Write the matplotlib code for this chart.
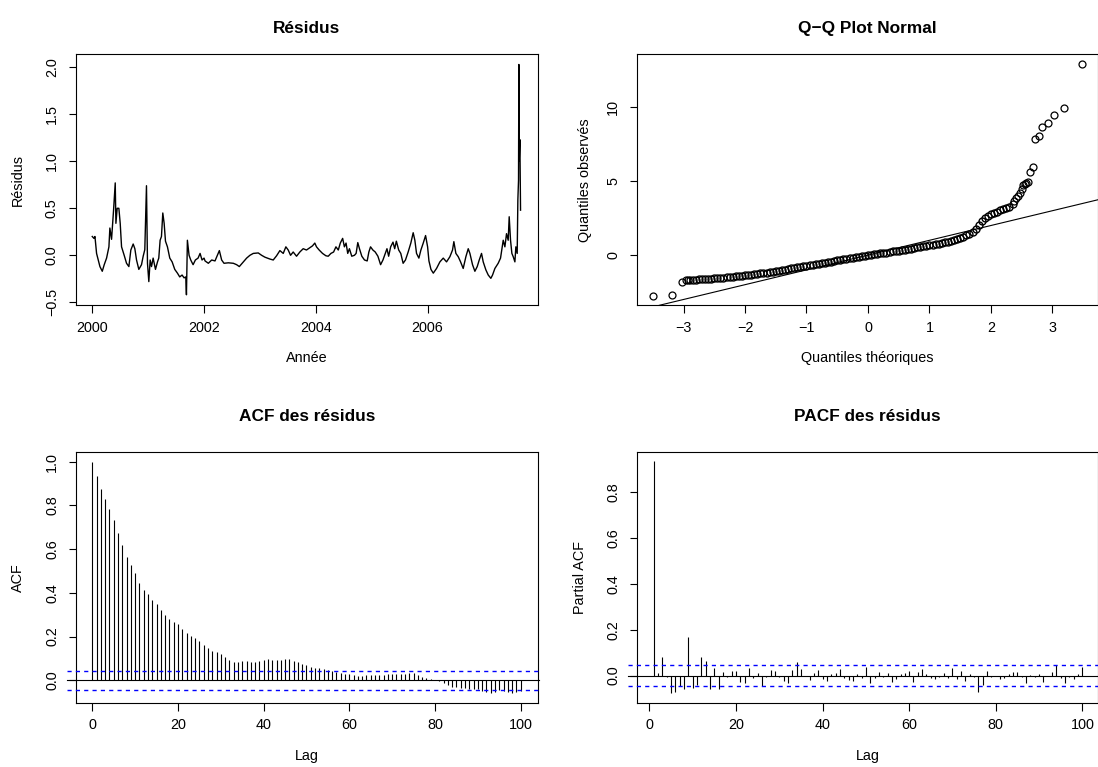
import numpy as np
import matplotlib
matplotlib.use("Agg")
import matplotlib.pyplot as plt

# residual series (year, value)
res_year = [2000.000, 2000.030, 2000.048, 2000.077, 2000.107, 2000.137, 2000.179, 2000.214, 2000.256, 2000.298,
            2000.315, 2000.345, 2000.381, 2000.411, 2000.423, 2000.446, 2000.476, 2000.500, 2000.524, 2000.571,
            2000.613, 2000.655, 2000.690, 2000.732, 2000.762, 2000.792, 2000.833, 2000.881, 2000.911, 2000.940,
            2000.970, 2000.988, 2001.012, 2001.036, 2001.060, 2001.089, 2001.131, 2001.167, 2001.190, 2001.214,
            2001.238, 2001.262, 2001.286, 2001.310, 2001.345, 2001.387, 2001.429, 2001.476, 2001.524, 2001.565,
            2001.607, 2001.643, 2001.673, 2001.685, 2001.702, 2001.732, 2001.762, 2001.804, 2001.845, 2001.893,
            2001.929, 2001.964, 2002.000, 2002.018, 2002.077, 2002.137, 2002.196, 2002.238, 2002.274, 2002.315,
            2002.357, 2002.435, 2002.524, 2002.583, 2002.631, 2002.690, 2002.762, 2002.821, 2002.881, 2002.970,
            2003.030, 2003.089, 2003.179, 2003.238, 2003.298, 2003.357, 2003.417, 2003.464, 2003.506, 2003.548,
            2003.595, 2003.655, 2003.714, 2003.774, 2003.833, 2003.893, 2003.940, 2003.982, 2004.012, 2004.060,
            2004.120, 2004.180, 2004.222, 2004.270, 2004.318, 2004.360, 2004.402, 2004.438, 2004.480, 2004.511,
            2004.541, 2004.571, 2004.601, 2004.643, 2004.691, 2004.721, 2004.751, 2004.781, 2004.823, 2004.871,
            2004.919, 2004.949, 2004.979, 2005.021, 2005.063, 2005.111, 2005.159, 2005.201, 2005.243, 2005.273,
            2005.303, 2005.339, 2005.381, 2005.411, 2005.441, 2005.483, 2005.520, 2005.562, 2005.604, 2005.652,
            2005.700, 2005.742, 2005.772, 2005.802, 2005.844, 2005.880, 2005.922, 2005.964, 2006.000, 2006.024,
            2006.060, 2006.102, 2006.160, 2006.220, 2006.280, 2006.339, 2006.399, 2006.446, 2006.470, 2006.506,
            2006.548, 2006.590, 2006.637, 2006.685, 2006.727, 2006.757, 2006.804, 2006.846, 2006.888, 2006.924,
            2006.965, 2006.995, 2007.043, 2007.085, 2007.132, 2007.162, 2007.204, 2007.263, 2007.305, 2007.353,
            2007.383, 2007.412, 2007.442, 2007.460, 2007.484, 2007.508, 2007.532, 2007.562, 2007.579, 2007.603,
            2007.615, 2007.627, 2007.633, 2007.639, 2007.651, 2007.663]
res_val = [0.20, 0.18, 0.20, 0.02, -0.05, -0.12, -0.17, -0.10, -0.03, 0.09,
           0.29, 0.17, 0.48, 0.77, 0.34, 0.50, 0.50, 0.34, 0.09, 0.00,
           -0.085, -0.12, 0.056, 0.12, 0.07, -0.05, -0.15, -0.10, -0.01, 0.06,
           0.74, -0.085, -0.28, -0.05, -0.12, -0.03, -0.15, -0.07, -0.03, 0.16,
           0.20, 0.45, 0.34, 0.15, 0.09, -0.03, -0.07, -0.15, -0.19, -0.23,
           -0.21, -0.24, -0.23, -0.42, 0.16, 0.00, -0.05, -0.10, -0.05, -0.03,
           0.02, -0.05, -0.03, -0.06, -0.085, -0.05, -0.06, 0.00, 0.05, -0.05,
           -0.085, -0.08, -0.085, -0.10, -0.12, -0.08, -0.03, 0.00, 0.02, 0.025,
           0.00, -0.02, -0.04, -0.05, -0.005, 0.05, 0.02, 0.09, 0.056, 0.00,
           0.035, -0.01, 0.035, 0.07, 0.056, 0.08, 0.10, 0.13, 0.09, 0.056,
           0.02, -0.005, -0.01, 0.02, 0.035, 0.09, 0.056, 0.13, 0.18, 0.09,
           0.13, 0.02, 0.07, -0.01, 0.00, 0.02, 0.135, 0.07, -0.01, -0.05,
           -0.06, 0.035, 0.09, 0.056, 0.035, -0.01, -0.10, -0.05, 0.02, 0.07,
           -0.01, 0.09, 0.14, 0.07, 0.15, 0.056, 0.02, -0.085, -0.05, 0.035,
           0.13, 0.24, 0.16, 0.02, -0.03, 0.056, 0.13, 0.21, 0.09, -0.06,
           -0.15, -0.19, -0.14, -0.07, -0.03, -0.07, -0.015, 0.056, 0.145, 0.02,
           -0.015, -0.07, -0.14, -0.015, 0.07, 0.02, -0.10, -0.17, -0.12, -0.05,
           0.02, -0.07, -0.156, -0.21, -0.245, -0.21, -0.14, -0.085, -0.03, 0.16,
           0.09, 0.23, 0.16, 0.41, 0.16, 0.02, -0.015, -0.07, 0.09, 0.02,
           0.59, 0.80, 2.03, 1.00, 1.23, 0.48]

# Q-Q plot: theoretical vs observed standardized residual quantiles
qq_theo_body = np.round(np.arange(-2.85, 2.301, 0.05), 2)
qq_obs_body = [-1.66, -1.64, -1.63, -1.61, -1.60, -1.58, -1.57, -1.55, -1.53, -1.52,
               -1.50, -1.48, -1.46, -1.44, -1.42, -1.40, -1.38, -1.36, -1.33, -1.31,
               -1.28, -1.25, -1.22, -1.20, -1.17, -1.14, -1.11, -1.08, -1.04, -1.00,
               -0.97, -0.93, -0.89, -0.85, -0.81, -0.77, -0.73, -0.70, -0.66, -0.63,
               -0.59, -0.56, -0.52, -0.49, -0.45, -0.42, -0.38, -0.35, -0.31, -0.28,
               -0.24, -0.21, -0.17, -0.14, -0.10, -0.07, -0.03, 0.00, 0.03, 0.07,
               0.10, 0.13, 0.16, 0.19, 0.23, 0.26, 0.29, 0.32, 0.36, 0.39,
               0.43, 0.46, 0.50, 0.53, 0.57, 0.60, 0.64, 0.67, 0.71, 0.75,
               0.79, 0.83, 0.88, 0.93, 0.99, 1.05, 1.12, 1.19, 1.26, 1.35,
               1.45, 1.58, 1.75, 2.02, 2.30, 2.50, 2.65, 2.78, 2.88, 2.96,
               3.04, 3.11, 3.18, 3.25]
qq_theo_tail = [-3.49, -3.18, -3.03, -2.96, -2.92, -2.89,
                2.35, 2.38, 2.41, 2.44, 2.47, 2.50, 2.52, 2.55, 2.57, 2.60,
                2.63, 2.68, 2.72, 2.78, 2.83, 2.92, 3.02, 3.18, 3.48]
qq_obs_tail = [-2.75, -2.70, -1.82, -1.70, -1.67, -1.67,
               3.50, 3.65, 3.85, 3.98, 4.20, 4.50, 4.75, 4.82, 4.88, 4.95,
               5.65, 5.94, 7.86, 8.06, 8.69, 8.92, 9.48, 9.93, 12.90]
qq_line = (0.015, 1.0)  # intercept, slope

# ACF, lags 0..100
acf_vals = [1.000, 0.936, 0.875, 0.830, 0.785, 0.733, 0.675, 0.619, 0.563, 0.529,
            0.489, 0.444, 0.413, 0.395, 0.367, 0.347, 0.322, 0.299, 0.280, 0.268,
            0.256, 0.235, 0.218, 0.204, 0.192, 0.181, 0.162, 0.146, 0.136, 0.128,
            0.119, 0.105, 0.093, 0.085, 0.085, 0.088, 0.088, 0.085, 0.084, 0.088,
            0.093, 0.096, 0.093, 0.091, 0.093, 0.096, 0.097, 0.090, 0.082, 0.076,
            0.068, 0.062, 0.058, 0.055, 0.053, 0.047, 0.044, 0.037, 0.032, 0.029,
            0.027, 0.023, 0.020, 0.021, 0.023, 0.024, 0.026, 0.026, 0.026, 0.027,
            0.027, 0.029, 0.029, 0.030, 0.032, 0.035, 0.026, 0.017, 0.011, 0.004,
            0.001, -0.003, -0.014, -0.021, -0.029, -0.032, -0.034, -0.037, -0.040, -0.041,
            -0.041, -0.047, -0.052, -0.056, -0.052, -0.044, -0.047, -0.053, -0.056, -0.052,
            -0.047]

# PACF, lags 1..100
pacf_vals = [0.937, 0.010, 0.080, -0.004, -0.077, -0.070, -0.044, -0.057, 0.169, -0.055,
             -0.042, 0.080, 0.065, -0.060, 0.035, -0.060, 0.015, -0.004, 0.020, 0.020,
             -0.028, -0.031, 0.035, -0.009, 0.010, -0.044, -0.004, 0.023, 0.019, -0.004,
             -0.022, -0.033, 0.026, 0.060, 0.031, -0.001, -0.019, 0.010, 0.025, -0.016,
             -0.022, 0.007, 0.010, 0.030, -0.012, -0.019, -0.022, 0.007, -0.012, 0.038,
             -0.031, -0.009, 0.017, -0.004, 0.013, -0.026, -0.016, 0.007, 0.010, 0.019,
             -0.026, 0.017, 0.029, 0.007, -0.012, -0.016, -0.004, 0.013, -0.009, 0.033,
             -0.016, 0.022, -0.022, 0.007, -0.004, -0.070, -0.041, 0.022, -0.004, -0.001,
             -0.016, -0.009, 0.007, 0.015, 0.015, -0.004, -0.031, 0.004, -0.007, 0.007,
             -0.026, 0.000, 0.016, 0.045, -0.012, -0.033, -0.004, -0.016, 0.007, 0.038]
ci = 0.0445

plt.rcParams['font.family'] = ['Liberation Sans', 'DejaVu Sans']
plt.rcParams['lines.scale_dashes'] = False
FS = 10.4
W, H = 1098, 767
fig = plt.figure(figsize=(W / 100, H / 100), dpi=100)


def make_ax(x0, x1, y0, y1):
    ax = fig.add_axes([x0 / W, 1 - y1 / H, (x1 - x0) / W, (y1 - y0) / H])
    for s in ax.spines.values():
        s.set_linewidth(0.8)
    ax.tick_params(direction='out', length=5.4, width=0.8, labelsize=FS)
    ax.tick_params(axis='x', pad=5.8)
    ax.tick_params(axis='y', pad=6.5)
    return ax


def finish(ax, title, xlabel, ylabel, yfmt, title_gap, ylab_off):
    # title_gap: px from box top to title baseline; ylab_off: px from box left to y-label centre
    ax.set_yticklabels([yfmt(t) for t in ax.get_yticks()], rotation=90, va='center')
    h = ax.get_position().height * H
    w = ax.get_position().width * W
    ax.text(0.5, 1 + title_gap / h, title, transform=ax.transAxes, ha='center', va='baseline',
            fontsize=12.4, fontweight='bold')
    ax.set_xlabel(xlabel, fontsize=FS, va='center')
    ax.set_ylabel(ylabel, fontsize=FS, va='center')
    ax.xaxis.set_label_coords(0.5, -53 / h)
    ax.yaxis.set_label_coords(-ylab_off / w, 0.5)


def minus(s):
    return s.replace('-', '\u2212')


# Résidus
ax1 = make_ax(75.5, 537.7, 54.5, 305.3)
ax1.plot(res_year, res_val, color='black', lw=1.0)
ax1.set_xlim(1999.70, 2007.97)
ax1.set_ylim(-0.532, 2.136)
ax1.set_xticks([2000, 2002, 2004, 2006])
ax1.set_yticks([-0.5, 0.0, 0.5, 1.0, 1.5, 2.0])
finish(ax1, 'Résidus', 'Année', 'Résidus', lambda t: minus(f'{t:.1f}'), 21.8, 57.5)

# Q-Q plot
ax2 = make_ax(636.7, 1098, 54.5, 305.3)
ax2.plot(qq_theo_body, qq_obs_body, 'o', mfc='none', mec='black', ms=5.0, mew=1.0)
ax2.plot(qq_theo_tail, qq_obs_tail, 'o', mfc='none', mec='black', ms=5.0, mew=0.9)
ax2.axline((0, qq_line[0]), slope=qq_line[1], color='black', lw=0.8)
ax2.set_xlim(-3.761, 3.74)
ax2.set_ylim(-3.378, 13.57)
ax2.set_xticks([-3, -2, -1, 0, 1, 2, 3])
ax2.set_xticklabels([minus(str(t)) for t in [-3, -2, -1, 0, 1, 2, 3]])
ax2.set_yticks([0, 5, 10])
finish(ax2, 'Q\u2212Q Plot Normal', 'Quantiles théoriques', 'Quantiles observés',
       lambda t: f'{t:.0f}', 21.8, 51.7)

dash = (0, (3.0, 3.0))

# ACF
ax3 = make_ax(75.7, 537.7, 452.3, 702.7)
lags = np.arange(len(acf_vals))
ax3.vlines(lags, 0, acf_vals, color='black', lw=0.8)
ax3.axhline(0, xmin=-0.019, xmax=1.003, color='black', lw=0.8, clip_on=False)
for yv in (ci, -ci):
    ax3.axhline(yv, xmin=-0.019, xmax=1.003, color='#0000FF', lw=1.0, ls=dash, clip_on=False, zorder=3)
ax3.set_xlim(-3.875, 103.97)
ax3.set_ylim(-0.1025, 1.043)
ax3.set_xticks([0, 20, 40, 60, 80, 100])
ax3.set_yticks([0.0, 0.2, 0.4, 0.6, 0.8, 1.0])
finish(ax3, 'ACF des résidus', 'Lag', 'ACF', lambda t: f'{t:.1f}', 31.3, 57.4)

# PACF
ax4 = make_ax(636.7, 1098, 452.3, 702.7)
plags = np.arange(1, len(pacf_vals) + 1)
ax4.vlines(plags, 0, pacf_vals, color='black', lw=0.8)
ax4.axhline(0, xmin=-0.019, xmax=1.0, color='black', lw=0.8, clip_on=False)
for yv in (ci, -ci):
    ax4.axhline(yv, xmin=-0.019, xmax=1.0, color='#0000FF', lw=1.0, ls=dash, clip_on=False, zorder=3)
ax4.set_xlim(-2.91, 103.6)
ax4.set_ylim(-0.118, 0.975)
ax4.set_xticks([0, 20, 40, 60, 80, 100])
ax4.set_yticks([0.0, 0.2, 0.4, 0.6, 0.8])
finish(ax4, 'PACF des résidus', 'Lag', 'Partial ACF', lambda t: f'{t:.1f}', 31.3, 56.7)

fig.savefig('out.png', dpi=100)
